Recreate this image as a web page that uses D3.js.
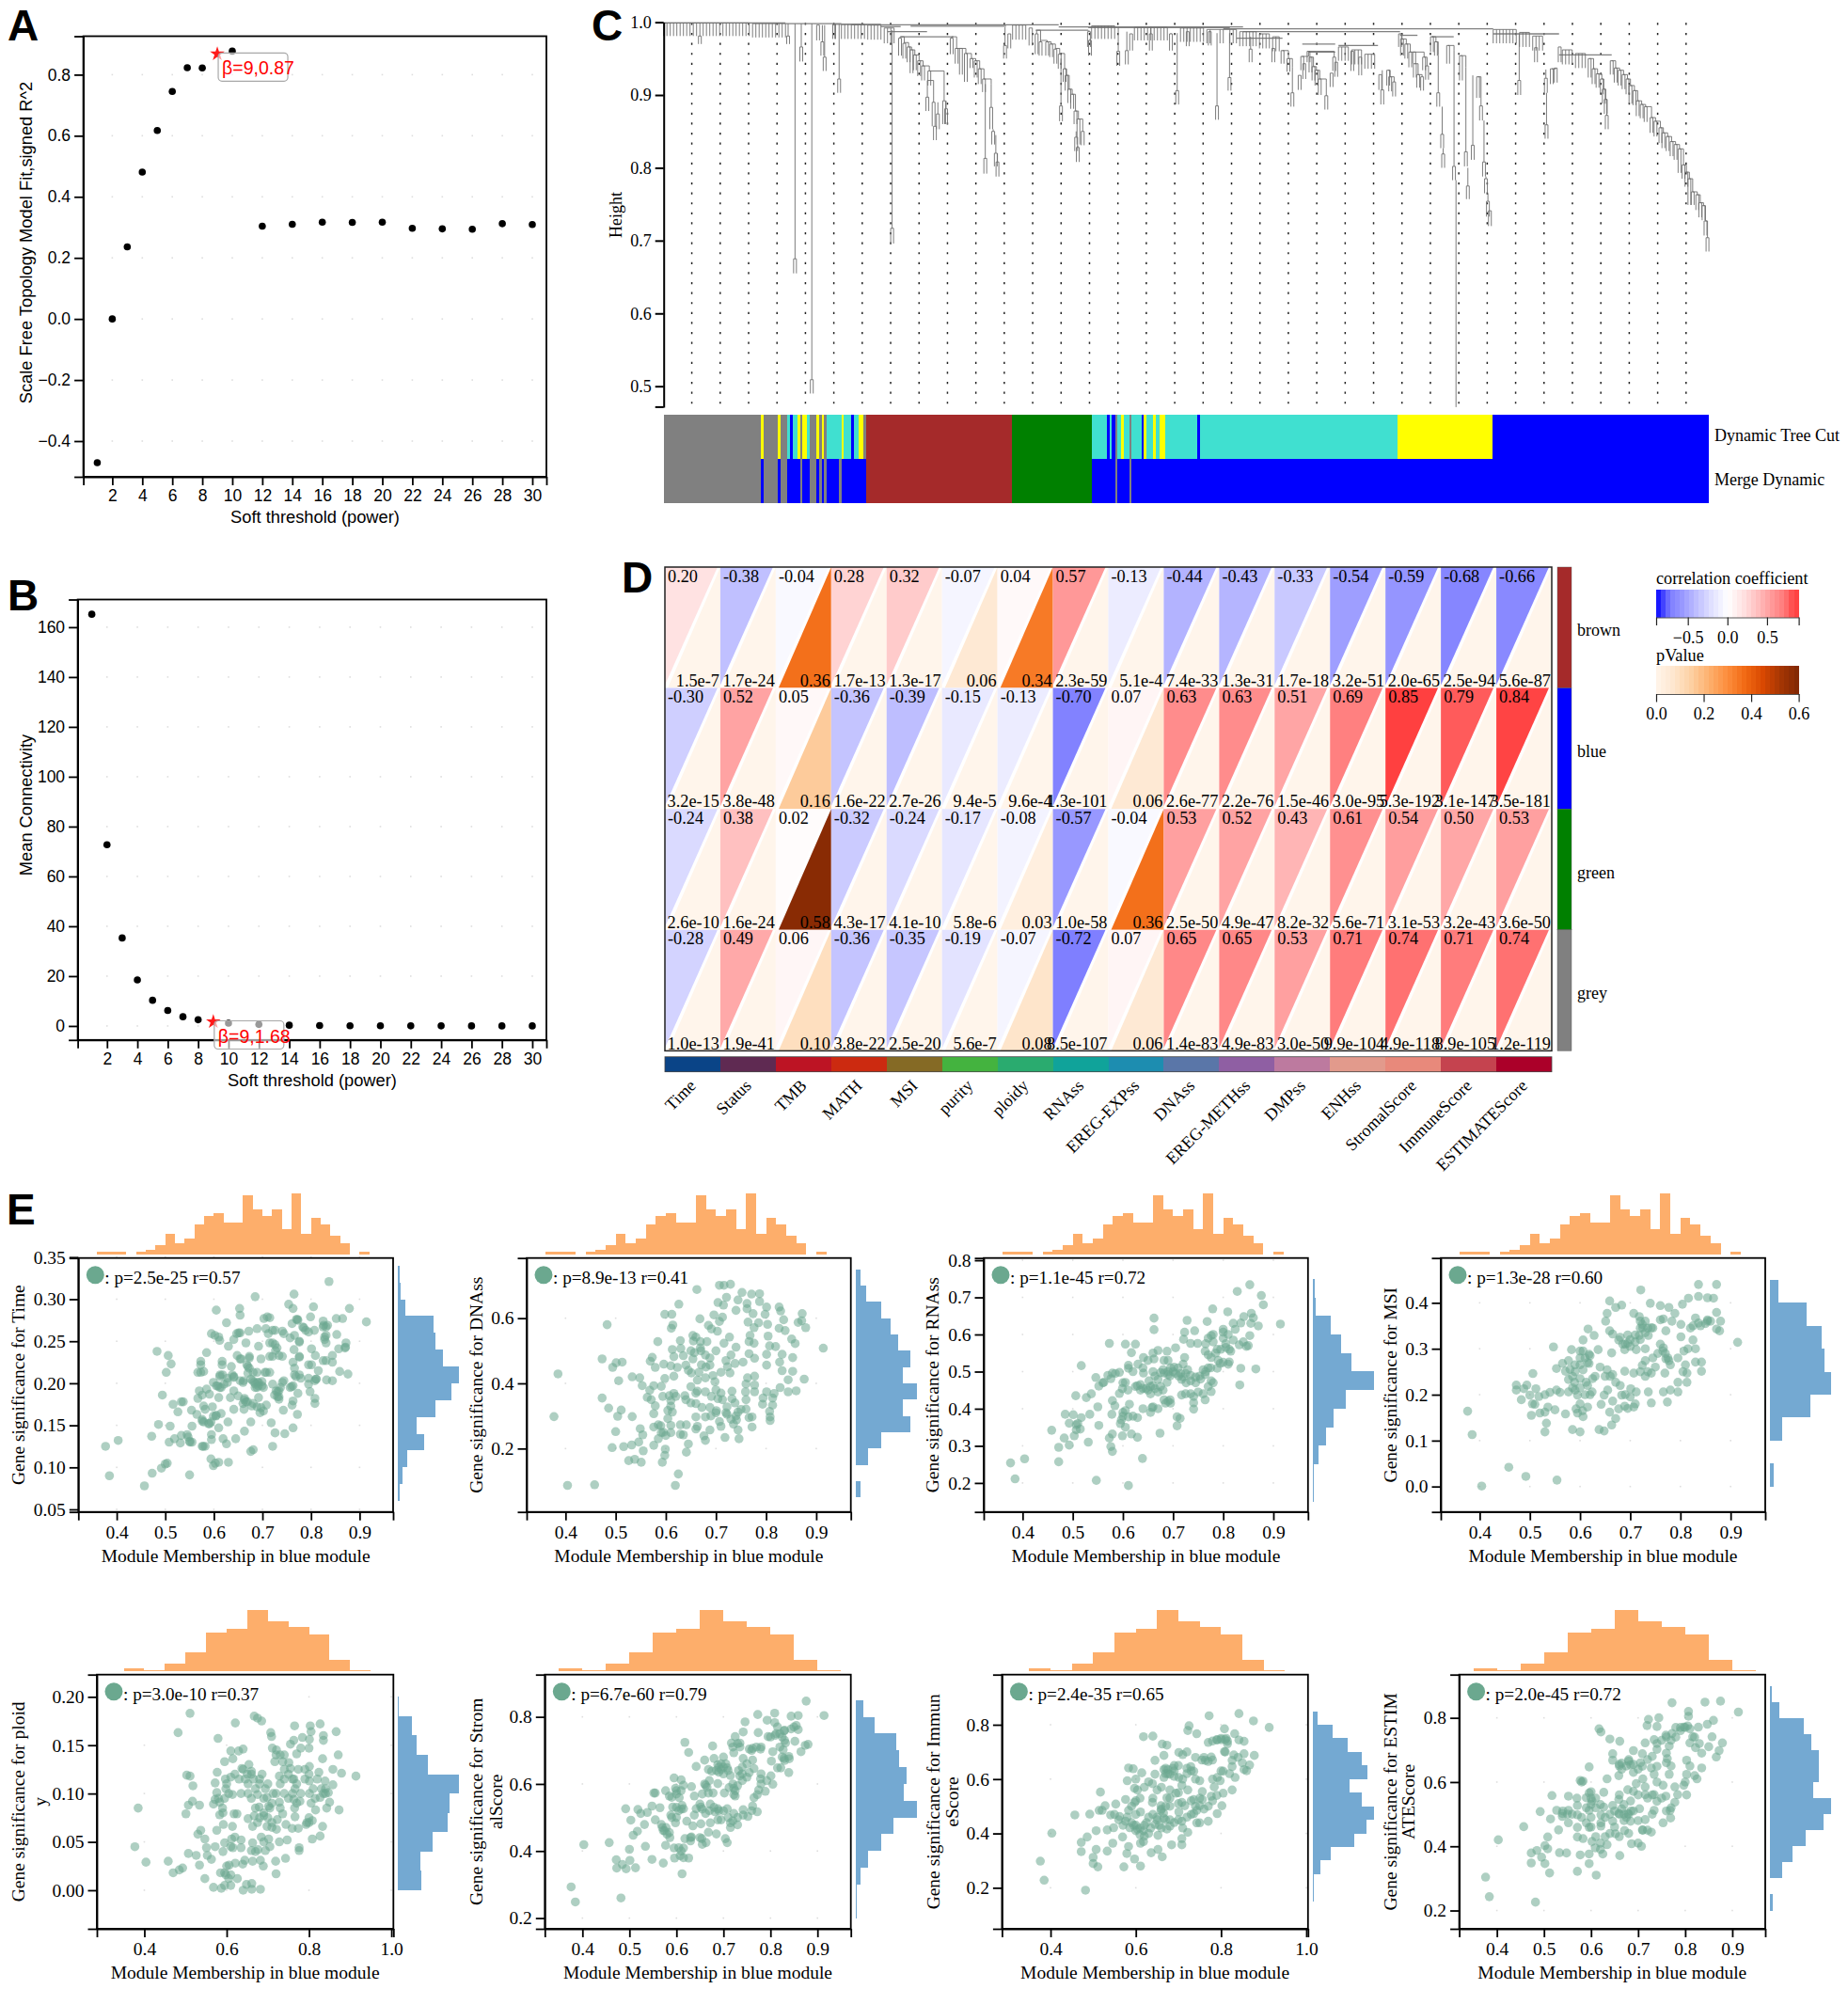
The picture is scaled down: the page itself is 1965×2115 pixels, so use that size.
<!DOCTYPE html>
<html>
<head>
<meta charset="utf-8">
<title>WGCNA figure</title>
<script src="https://cdn.jsdelivr.net/npm/d3@7"></script>
<style>
  html, body { margin: 0; background: #fff; }
  svg { display: block; }
  text { fill: #000; }
  .sans text, text.sans { font-family: "Liberation Sans", Arial, sans-serif; }
  .serif text, text.serif { font-family: "Liberation Serif", "Times New Roman", serif; }
  .letter { font-family: "Liberation Sans", Arial, sans-serif; font-weight: 700; font-size: 46px; }
</style>
</head>
<body>
<svg id="fig" width="1965" height="2115" viewBox="0 0 1965 2115"></svg>
<script>
// panels A and B: soft threshold scan
const powers = [1, 2, 3, 4, 5, 6, 7, 8, 9, 10, 12, 14, 16, 18, 20, 22, 24, 26, 28, 30];
const scaleFit = [-0.471, 0, 0.236, 0.481, 0.617, 0.745, 0.823, 0.822, 0.868, 0.877, 0.304, 0.31, 0.317, 0.316, 0.317, 0.297, 0.295, 0.294, 0.312, 0.309];
const meanConnectivity = [165.2, 72.7, 35.3, 18.5, 10.3, 6.2, 3.7, 2.5, 1.68, 1.1, 0.6, 0.3, 0.15, 0.1, 0.07, 0.05, 0.04, 0.03, 0.02, 0.02];
const powerTicks = [2, 4, 6, 8, 10, 12, 14, 16, 18, 20, 22, 24, 26, 28, 30];

// panel C: dendrogram. x is leaf rank, y is merge height
const treeCombs = [
  [.999, .981, [0, 1, 2, 3, 4, 5, 6, 7, 8, 9, 10, 12, 13, 14, 15, 16, 17, 18, 19, 20, 21, 22, 23, 24, 25, 26]],
  [.998, .979, [27, 28, 29, 30, 31, 32, 33, 34, 35, 36, 37]],
  [.997, .977, [52, 54, 55, 56, 57, 58, 59, 60, 61]],
  [.996, .976, [62, 63, 64, 65, 66]],
  [.992, .971, [67, 68, 69, 70]],
  [.996, .976, [106, 107, 108, 109, 110]],
  [.992, .968, [111, 112]],
  [.995, .977, [130, 131, 132, 133, 134, 135, 136, 137]],
  [.993, .975, [143, 144, 145, 146, 147, 148, 149, 150, 151, 152, 153]],
  [.992, .973, [157, 158, 159, 160, 161, 162, 163, 164]],
  [.990, .971, [165, 166, 169, 170, 172, 173, 174]],
  [.987, .967, [175, 176, 177, 178, 179, 180]],
  [.984, .964, [181, 182, 183, 184]],
  [.980, .960, [185, 186, 187]],
  [.966, .947, [205, 206, 207, 208]],
  [.962, .942, [209, 210, 211, 212]],
  [.956, .936, [213, 214, 215, 216]],
  [.990, .971, [252, 253, 254, 255, 256, 257, 258, 259]],
  [.986, .966, [260, 261, 262, 263]],
  [.981, .961, [264, 265, 266, 267]],
  [.962, .942, [273, 274, 275, 276]],
  [.957, .937, [277, 278, 279, 280]]
];
// [rank, stem top, fork top, fork bottom]; runs inside one group are joined as a staircase
const treeForks = [
  [[11, .999, .981, .970]], [[37.8, .998, .981, .970]], [[39.9, .998, .675, .655]],
  [[41.8, .998, .966, .946]], [[45, .998, .509, .490]], [[46.9, .996, .996, .975]],
  [[48.2, .996, .973, .954]], [[48.9, .996, .952, .933]], [[51.8, .997, .997, .977]],
  [[53.3, .997, .922, .903]], [[69.4, .989, .717, .696]],
  [[71.8, .98, .978, .954], [73.1, .972, .971, .95], [74.4, .966, .966, .945], [75.3, .962, .962, .93], [76.3, .955, .955, .934], [77.6, .947, .947, .926], [78.8, .94, .94, .92], [80.7, .933, .933, .913], [85.2, .905, .892, .86]],
  [[80.1, .92, .897, .878], [82, .90, .89, .857]], [[82.4, .857, .857, .838]],
  [[83.3, .89, .874, .853]], [[85.8, .892, .881, .86]],
  [[87.5, .98, .978, .956], [89, .964, .964, .943], [90.3, .964, .964, .928], [91.8, .957, .957, .918], [93.5, .95, .95, .937], [94.8, .947, .947, .924], [96, .936, .936, .915], [97.3, .922, .922, .904], [99.5, .915, .883, .853]],
  [[97.7, .915, .813, .792]], [[100.1, .853, .85, .832]], [[100.9, .845, .82, .802]], [[101.4, .82, .808, .788]],
  [[103.7, .993, .968, .95]], [[105, .984, .984, .964]],
  [[113.3, .989, .984, .956], [114.5, .975, .973, .954], [116.5, .973, .973, .954], [117.7, .97, .97, .952], [119, .964, .963, .943], [120.3, .957, .956, .936], [121.8, .936, .936, .918], [122.4, .927, .927, .906], [123.2, .908, .908, .889], [124.1, .901, .901, .881], [125.1, .878, .878, .86], [126, .867, .867, .832], [127.3, .85, .85, .831]],
  [[120.7, .95, .885, .864]], [[125.3, .85, .842, .823]], [[125.8, .83, .828, .808]],
  [[129.2, .989, .987, .966]], [[129.5, .977, .975, .954]], [[138.1, .994, .96, .94]],
  [[140.7, .987, .961, .942]], [[142, .984, .984, .961]], [[148, .994, .984, .961]],
  [[154.1, .985, .984, .961]], [[156, .985, .906, .887]], [[159.2, .987, .987, .967]],
  [[165.9, .987, .987, .968]], [[168.1, .985, .885, .866]], [[171.9, .985, .924, .906]],
  [[178.3, .98, .963, .945]], [[185.2, .964, .964, .945]],
  [[188, .961, .961, .943], [189.8, .95, .95, .932], [191, .938, .903, .884]],
  [[193.2, .927, .927, .907]], [[194, .953, .953, .934], [195.9, .96, .96, .945], [203.7, .952, .952, .933]],
  [[194.6, .943, .943, .922]], [[196.5, .952, .952, .931], [197.4, .939, .939, .92], [198.3, .934, .934, .913], [199.3, .922, .922, .9], [201.3, .917, .899, .88]],
  [[202.9, .93, .93, .911]], [[204.3, .945, .945, .925]], [[209.2, .96, .96, .933]], [[211.6, .952, .952, .927]],
  [[217.7, .928, .928, .907]], [[218.3, .934, .907, .887]], [[220.1, .934, .934, .913], [220.7, .925, .925, .905], [221.9, .918, .918, .898]],
  [[223.7, .984, .984, .966], [224.3, .977, .977, .954], [225.6, .97, .97, .95], [226.8, .959, .959, .938], [228, .959, .959, .943], [231, .952, .952, .934], [231.9, .94, .94, .921]],
  [[228.2, .943, .943, .924], [229.2, .928, .928, .91], [230.4, .925, .925, .906]],
  [[233.4, .98, .98, .959], [234.6, .973, .973, .954], [235.3, .955, .903, .884]],
  [[236.5, .884, .846, .827]], [[236.8, .827, .819, .8]], [[238.3, .968, .968, .943], [240.1, .961, .802, .783]],
  [[240.7, .783, .4713, .4713]],
  [[242.2, .954, .954, .92], [243.7, .938, .822, .802]], [[244.3, .80, .775, .757]],
  [[245.8, .927, .831, .811]], [[247.4, .925, .925, .896], [248.3, .896, .885, .865]],
  [[249.2, .865, .808, .788]], [[249.8, .788, .785, .765]], [[250.4, .765, .754, .733]], [[251, .741, .741, .72]],
  [[259.9, .984, .92, .9]], [[265, .965, .965, .945]], [[268, .935, .923, .903]], [[268.2, .903, .859, .84]],
  [[269.8, .936, .936, .915], [271, .937, .937, .917]], [[272.2, .966, .966, .945]],
  [[281.3, .95, .95, .924], [282.5, .936, .936, .915], [283.7, .929, .929, .91], [285, .922, .922, .901], [285.6, .908, .908, .888], [286.2, .894, .894, .874], [286.5, .872, .872, .853]],
  [[288, .947, .947, .928], [289.2, .937, .937, .917], [290.4, .934, .934, .913], [291.6, .928, .928, .908], [292.8, .922, .922, .901], [293.7, .913, .913, .888], [294.9, .906, .906, .886], [295.9, .892, .892, .871], [297.1, .887, .887, .868], [298.3, .884, .884, .863], [300.1, .869, .869, .848], [301.3, .864, .864, .843], [302.8, .855, .855, .834], [303.7, .848, .848, .827], [305, .843, .843, .823], [306.2, .836, .836, .816], [307.4, .832, .832, .811], [308.6, .826, .826, .793], [309.8, .804, .804, .785], [310.7, .794, .794, .774], [311.6, .785, .785, .749], [312.6, .767, .767, .749], [314, .763, .763, .742], [314.9, .752, .752, .732], [315.9, .748, .748, .728], [316.5, .727, .727, .707], [317.1, .704, .704, .685]]
];
const treeBars = [
  [0, 37, .999], [37, 54, .998], [54, 66, .997], [57, 120, .9965], [75, 104, .9945], [66, 72, .994],
  [68, 80, .987], [72, 88, .98], [113, 129, .989], [120, 176, .9935], [129, 172, .9925], [170, 252, .991],
  [176, 223.7, .987], [223.7, 229, .982], [233.4, 240, .98], [252, 272, .984], [272, 288, .955],
  [194, 204, .97], [196, 204, .959], [174, 188, .978], [205, 217, .968]
];
const cutRanks = [29.5, 30.4, 34.7, 35.5, 37.6, 38.3, 39.2, 40.7, 41.6, 42.2, 43.5, 44.4, 46.4, 47.2, 48, 48.7, 49.5, 54, 54.6, 56.9, 57.7, 59.1, 60.7, 61.4, 105.9, 130.1, 134.7, 135.5, 136.2, 137.1, 137.8, 139, 139.8, 141.6, 142.2, 145.2, 145.8, 146.6, 148.7, 149.5, 150.6, 152.4, 162.1, 162.9, 222.9, 251.9, 317.5];
const cutColors = ['grey', 'yellow', 'grey', 'yellow', 'grey', 'turquoise', 'blue', 'turquoise', 'yellow', 'grey', 'yellow', 'turquoise', 'grey', 'yellow', 'grey', 'yellow', 'grey', 'turquoise', 'yellow', 'turquoise', 'blue', 'turquoise', 'yellow', 'grey', 'brown', 'green', 'turquoise', 'blue', 'turquoise', 'blue', 'grey', 'turquoise', 'yellow', 'turquoise', 'grey', 'turquoise', 'blue', 'yellow', 'turquoise', 'yellow', 'turquoise', 'yellow', 'turquoise', 'blue', 'turquoise', 'yellow', 'blue'];
const mergeRanks = [29.5, 30.4, 34.7, 35.5, 37.6, 41.5, 42.1, 44.4, 46.4, 47.2, 48, 48.7, 49.5, 53.1, 54, 61.4, 105.9, 130.1, 137.1, 137.8, 141.6, 142.2, 317.5];
const mergeColors = ['grey', 'blue', 'grey', 'blue', 'grey', 'blue', 'grey', 'blue', 'grey', 'blue', 'grey', 'blue', 'grey', 'blue', 'grey', 'blue', 'brown', 'green', 'blue', 'grey', 'blue', 'grey', 'blue'];
const moduleColors = { grey: '#808080', yellow: '#ffff00', turquoise: '#40e0d0', blue: '#0000ff', brown: '#a52a2a', green: '#008000' };
const treeHeightTicks = [0.5, 0.6, 0.7, 0.8, 0.9, 1.0];

// panel D: module-trait heatmap
const traits = ['Time', 'Status', 'TMB', 'MATH', 'MSI', 'purity', 'ploidy', 'RNAss', 'EREG-EXPss', 'DNAss', 'EREG-METHss', 'DMPss', 'ENHss', 'StromalScore', 'ImmuneScore', 'ESTIMATEScore'];
const traitColors = ['#0a4487', '#5f2a52', '#bd1424', '#cc2a10', '#856a25', '#44b33f', '#2aab6f', '#10a39a', '#1d8db0', '#5a76a8', '#8f5fa3', '#bd7a9f', '#e29a8c', '#e8897b', '#c5434f', '#ab0029'];
const modules = ['brown', 'blue', 'green', 'grey'];
const corrValues = [
  ['0.20', '-0.38', '-0.04', '0.28', '0.32', '-0.07', '0.04', '0.57', '-0.13', '-0.44', '-0.43', '-0.33', '-0.54', '-0.59', '-0.68', '-0.66'],
  ['-0.30', '0.52', '0.05', '-0.36', '-0.39', '-0.15', '-0.13', '-0.70', '0.07', '0.63', '0.63', '0.51', '0.69', '0.85', '0.79', '0.84'],
  ['-0.24', '0.38', '0.02', '-0.32', '-0.24', '-0.17', '-0.08', '-0.57', '-0.04', '0.53', '0.52', '0.43', '0.61', '0.54', '0.50', '0.53'],
  ['-0.28', '0.49', '0.06', '-0.36', '-0.35', '-0.19', '-0.07', '-0.72', '0.07', '0.65', '0.65', '0.53', '0.71', '0.74', '0.71', '0.74']
];
const pValues = [
  ['1.5e-7', '1.7e-24', '0.36', '1.7e-13', '1.3e-17', '0.06', '0.34', '2.3e-59', '5.1e-4', '7.4e-33', '1.3e-31', '1.7e-18', '3.2e-51', '2.0e-65', '2.5e-94', '5.6e-87'],
  ['3.2e-15', '3.8e-48', '0.16', '1.6e-22', '2.7e-26', '9.4e-5', '9.6e-4', '1.3e-101', '0.06', '2.6e-77', '2.2e-76', '1.5e-46', '3.0e-95', '5.3e-192', '3.1e-147', '3.5e-181'],
  ['2.6e-10', '1.6e-24', '0.58', '4.3e-17', '4.1e-10', '5.8e-6', '0.03', '1.0e-58', '0.36', '2.5e-50', '4.9e-47', '8.2e-32', '5.6e-71', '3.1e-53', '3.2e-43', '3.6e-50'],
  ['1.0e-13', '1.9e-41', '0.10', '3.8e-22', '2.5e-20', '5.6e-7', '0.08', '8.5e-107', '0.06', '1.4e-83', '4.9e-83', '3.0e-50', '9.9e-104', '4.9e-118', '8.9e-105', '1.2e-119']
];
const corrStops = [-0.9, -0.85, -0.72, -0.57, -0.38, -0.2, 0, 0.2, 0.38, 0.57, 0.72, 0.85, 0.9];
const corrStopColors = ['#0000ff', '#2828ff', '#7f7fff', '#9898ff', '#c0c0ff', '#e2e2ff', '#ffffff', '#ffe2e2', '#ffc0c0', '#ff9898', '#ff7a7a', '#ff4040', '#ff4848'];
const pStops = [0, 0.075, 0.15, 0.225, 0.3, 0.375, 0.45, 0.525, 0.6];
const pStopColors = ['#fff5eb', '#fee6ce', '#fdd0a2', '#fdae6b', '#fd8d3c', '#f16913', '#d94801', '#a63603', '#7f2704'];

// panel E: x marginal histograms, one binning per row of scatter plots
const mmBins28 = [1, 1, 1, 0, 1, 2, 4, 9, 5, 7, 13, 17, 18, 14, 14, 26, 20, 17, 20, 11, 27, 9, 16, 13, 8, 5, 0, 1];
const mmBins12 = [3, 1, 11, 27, 55, 60, 88, 71, 63, 52, 16, 1];

const timeHist = [1, 3, 6, 17, 12, 24, 34, 39, 29, 24, 23, 5, 2, 1];
const dnaHist = [3, 0, 8, 17, 36, 31, 40, 31, 36, 28, 23, 17, 7, 3];
const rnaHist = [1, 1, 7, 17, 26, 41, 76, 48, 35, 22, 4, 2];
const msiHist = [4, 0, 13, 42, 64, 57, 54, 38, 9];
const ploidyHist = [21, 20, 32, 45, 47, 56, 27, 17, 13, 1];
const stromalHist = [1, 1, 4, 10, 20, 30, 48, 38, 40, 34, 32, 15, 6];
const immuneHist = [1, 1, 5, 12, 27, 35, 40, 32, 24, 36, 32, 23, 13, 3];
const estimateHist = [2, 0, 8, 15, 24, 36, 41, 29, 33, 33, 28, 23, 6, 1];

const timePoints = [[.377,.125],[.403,.132],[.385,.09],[.457,.078],[.473,.093],[.492,.099],[.5,.104],[.504,.105],[.55,.091],[.594,.11],[.599,.102],[.603,.105],[.61,.106],[.63,.106],[.676,.119],[.681,.121],[.721,.125],[.472,.137],[.486,.151],[.51,.149],[.508,.13],[.519,.134],[.531,.129],[.533,.138],[.545,.139],[.55,.131],[.555,.13],[.555,.149],[.576,.125],[.582,.125],[.595,.139],[.595,.133],[.61,.147],[.619,.134],[.626,.128],[.645,.134],[.663,.143],[.676,.154],[.718,.153],[.726,.141],[.746,.14],[.763,.147],[.772,.163],[.494,.186],[.516,.175],[.526,.166],[.533,.178],[.537,.178],[.554,.168],[.565,.163],[.576,.157],[.576,.155],[.589,.152],[.594,.154],[.599,.161],[.605,.162],[.615,.164],[.629,.154],[.579,.173],[.582,.169],[.597,.172],[.567,.182],[.57,.191],[.576,.186],[.585,.193],[.591,.187],[.61,.183],[.641,.169],[.662,.169],[.678,.173],[.689,.172],[.695,.165],[.702,.167],[.708,.174],[.692,.183],[.666,.178],[.663,.182],[.65,.185],[.634,.183],[.641,.191],[.725,.186],[.731,.184],[.734,.181],[.743,.168],[.761,.174],[.763,.179],[.599,.201],[.608,.197],[.615,.195],[.621,.199],[.612,.208],[.618,.21],[.628,.206],[.483,.238],[.506,.233],[.512,.223],[.502,.213],[.585,.2365],[.573,.226],[.573,.222],[.567,.213],[.579,.214],[.605,.287],[.653,.289],[.654,.281],[.626,.272],[.685,.303],[.765,.306],[.754,.294],[.763,.289],[.805,.291],[.837,.321],[.879,.289],[.914,.273],[.799,.279],[.852,.277],[.865,.277],[.703,.277],[.71,.279],[.715,.278],[.772,.276],[.761,.271],[.689,.265],[.707,.265],[.726,.263],[.741,.262],[.785,.266],[.789,.263],[.807,.263],[.826,.269],[.834,.269],[.825,.274],[.853,.258],[.831,.257],[.828,.252],[.872,.248],[.871,.243],[.857,.241],[.844,.233],[.831,.227],[.844,.225],[.859,.214],[.876,.211],[.832,.204],[.844,.203],[.815,.215],[.81,.205],[.801,.222],[.809,.233],[.801,.241],[.595,.259],[.602,.257],[.61,.255],[.612,.251],[.63,.244],[.641,.252],[.651,.26],[.666,.248],[.672,.262],[.692,.244],[.715,.248],[.726,.246],[.727,.239],[.734,.233],[.765,.24],[.776,.249],[.776,.231],[.763,.225],[.648,.233],[.656,.229],[.673,.23],[.697,.229],[.715,.232],[.617,.226],[.636,.22],[.67,.22],[.613,.21],[.641,.207],[.661,.203],[.68,.203],[.69,.201],[.699,.202],[.708,.213],[.721,.199],[.741,.201],[.766,.218],[.769,.208],[.779,.206],[.76,.196],[.795,.199],[.798,.19],[.808,.182],[.808,.176],[.773,.188],[.737,.195],[.731,.19],[.685,.195],[.692,.197],[.702,.195]];
const timeDense = [[.647,.259],[.654,.26],[.712,.259],[.721,.263],[.744,.259],[.757,.254],[.766,.257],[.783,.267],[.795,.261],[.825,.267],[.831,.267],[.721,.248],[.73,.242],[.721,.232],[.741,.232],[.776,.232],[.673,.232],[.654,.229],[.668,.222],[.673,.218],[.617,.222],[.638,.21],[.641,.208],[.67,.212],[.681,.213],[.689,.213],[.705,.213],[.715,.213],[.766,.21],[.776,.21],[.795,.206],[.795,.222],[.676,.205],[.683,.201],[.689,.195],[.692,.201],[.699,.197],[.686,.199],[.605,.197],[.612,.195],[.628,.201],[.654,.203],[.66,.201],[.744,.203],[.728,.191],[.734,.191],[.734,.184],[.757,.195],[.763,.197],[.663,.18],[.669,.178],[.66,.176],[.681,.176],[.697,.171],[.579,.154],[.591,.152],[.604,.161],[.547,.136],[.578,.125],[.551,.13],[.808,.203],[.811,.205],[.828,.255],[.831,.248],[.87,.242],[.825,.227],[.776,.25],[.77,.276],[.773,.275],[.573,.213]];
const dnaPoints = [[.377,.298],[.385,.429],[.404,.087],[.458,.089],[.473,.475],[.473,.355],[.486,.324],[.483,.58],[.494,.449],[.501,.463],[.513,.465],[.506,.408],[.533,.42],[.548,.417],[.553,.393],[.568,.379],[.563,.357],[.571,.35],[.579,.331],[.576,.307],[.504,.299],[.511,.318],[.533,.298],[.5,.252],[.493,.203],[.516,.206],[.532,.211],[.546,.22],[.554,.242],[.549,.261],[.555,.193],[.526,.163],[.538,.167],[.551,.158],[.593,.158],[.598,.179],[.599,.198],[.625,.122],[.619,.087],[.641,.189],[.645,.214],[.679,.225],[.718,.234],[.746,.23],[.584,.528],[.598,.612],[.612,.612],[.614,.579],[.611,.569],[.626,.643],[.662,.688],[.707,.701],[.716,.701],[.729,.704],[.721,.664],[.704,.648],[.715,.64],[.744,.656],[.752,.679],[.771,.674],[.787,.675],[.787,.651],[.74,.624],[.762,.645],[.762,.629],[.801,.634],[.798,.612],[.774,.614],[.826,.634],[.829,.622],[.872,.614],[.864,.587],[.871,.592],[.879,.571],[.835,.595],[.826,.569],[.838,.562],[.914,.508],[.851,.536],[.858,.522],[.853,.479],[.853,.437],[.876,.413],[.844,.411],[.844,.374],[.86,.377],[.828,.387],[.832,.439],[.827,.465],[.832,.489],[.819,.513],[.807,.515],[.804,.545],[.803,.581],[.776,.571],[.764,.588],[.785,.586],[.668,.598],[.696,.61],[.713,.603],[.707,.59],[.685,.578],[.691,.567],[.703,.56],[.654,.547],[.66,.542],[.629,.531],[.669,.528],[.682,.528],[.716,.523],[.727,.542],[.74,.511],[.768,.547],[.776,.523],[.766,.528],[.766,.491],[.777,.477],[.801,.489],[.801,.456],[.754,.465],[.73,.487],[.613,.504],[.616,.482],[.63,.507],[.635,.485],[.657,.494],[.669,.509],[.679,.487],[.688,.478],[.573,.48],[.569,.468],[.579,.449],[.596,.459],[.61,.454],[.623,.449],[.64,.456],[.654,.475],[.671,.457],[.688,.456],[.723,.451],[.738,.461],[.651,.432],[.666,.434],[.694,.424],[.71,.434],[.728,.432],[.598,.415],[.616,.422],[.663,.41],[.679,.417],[.698,.405],[.763,.417],[.777,.422],[.76,.398],[.777,.395],[.576,.393],[.591,.391],[.663,.376],[.679,.374],[.732,.376],[.759,.374],[.777,.374],[.801,.374],[.816,.369],[.594,.36],[.607,.362],[.616,.369],[.638,.362],[.691,.36],[.704,.353],[.713,.35],[.732,.353],[.76,.35],[.794,.355],[.813,.355],[.61,.347],[.66,.338],[.738,.34],[.722,.328],[.813,.333],[.793,.336],[.604,.317],[.613,.312],[.672,.326],[.688,.326],[.701,.316],[.744,.312],[.76,.321],[.807,.314],[.604,.292],[.66,.297],[.679,.297],[.722,.305],[.741,.288],[.766,.295],[.772,.297],[.808,.297],[.808,.286],[.576,.266],[.585,.273],[.61,.271],[.629,.273],[.641,.273],[.663,.268],[.688,.257],[.707,.283],[.71,.268],[.735,.275],[.772,.266],[.744,.257],[.591,.249],[.61,.249],[.629,.244],[.635,.242],[.676,.239],[.576,.21],[.585,.23]];
const dnaDense = [[.68,.45],[.7,.38],[.71,.37],[.65,.39],[.66,.37],[.64,.35],[.65,.34],[.69,.3],[.7,.31],[.66,.26],[.62,.36],[.61,.33],[.59,.27],[.595,.25],[.6,.24],[.72,.31],[.73,.29],[.74,.3],[.75,.32],[.72,.47],[.67,.5],[.65,.5],[.655,.53],[.645,.44],[.7,.5]];
const rnaPoints = [[.376,.254],[.404,.265],[.385,.211],[.547,.207],[.611,.193],[.472,.257],[.639,.266],[.458,.342],[.472,.296],[.493,.302],[.483,.321],[.531,.31],[.485,.385],[.501,.384],[.493,.361],[.507,.357],[.517,.376],[.507,.343],[.503,.327],[.534,.385],[.552,.355],[.55,.405],[.506,.435],[.527,.43],[.537,.44],[.517,.516],[.546,.484],[.552,.461],[.562,.471],[.576,.481],[.579,.496],[.593,.498],[.573,.576],[.605,.574],[.625,.574],[.617,.551],[.611,.517],[.579,.422],[.584,.408],[.578,.385],[.613,.412],[.605,.395],[.597,.37],[.611,.378],[.629,.376],[.573,.321],[.579,.332],[.576,.298],[.579,.285],[.599,.327],[.617,.332],[.629,.323],[.674,.334],[.708,.354],[.714,.374],[.708,.378],[.741,.399],[.662,.644],[.662,.613],[.728,.638],[.768,.635],[.779,.669],[.809,.661],[.828,.716],[.853,.734],[.876,.705],[.88,.68],[.914,.628],[.865,.507],[.833,.464],[.87,.623],[.856,.657],[.841,.648],[.835,.631],[.824,.614],[.8,.614],[.853,.597],[.8,.606],[.776,.597],[.743,.61],[.723,.606],[.721,.587],[.735,.576],[.749,.576],[.705,.564],[.67,.557],[.688,.555],[.641,.538],[.662,.534],[.682,.53],[.723,.538],[.764,.555],[.788,.56],[.812,.56],[.832,.572],[.846,.568],[.776,.538],[.794,.522],[.812,.526],[.835,.509],[.788,.509],[.764,.492],[.753,.488],[.729,.505],[.7,.5],[.711,.488],[.682,.496],[.664,.488],[.641,.496],[.611,.509],[.605,.471],[.629,.462],[.646,.454],[.664,.454],[.688,.471],[.735,.475],[.776,.475],[.776,.446],[.741,.433],[.717,.437],[.694,.424],[.682,.424],[.658,.403],[.764,.424],[.741,.416],[.593,.441],[.599,.454],[.652,.475],[.67,.479],[.694,.488],[.717,.479],[.68,.505],[.69,.492],[.702,.512],[.715,.495],[.726,.47],[.66,.462],[.635,.45],[.655,.44],[.67,.445],[.72,.52],[.745,.47],[.76,.505],[.775,.51],[.79,.53],[.805,.575],[.82,.585]];
const rnaDense = [[.66,.5],[.675,.497],[.69,.5],[.695,.51],[.705,.495],[.71,.51],[.72,.485],[.725,.495],[.735,.49],[.745,.485],[.755,.48],[.765,.5],[.77,.51],[.625,.46],[.635,.465],[.64,.455],[.65,.45],[.655,.46],[.675,.46],[.68,.45],[.69,.42],[.685,.415],[.695,.415],[.66,.405],[.67,.4],[.725,.44],[.735,.44],[.75,.445],[.76,.44],[.77,.46],[.78,.47],[.78,.58],[.77,.545],[.785,.55],[.8,.525],[.81,.52],[.815,.555],[.805,.565],[.795,.56],[.8,.59],[.81,.6],[.82,.63],[.84,.58],[.85,.57],[.855,.63],[.86,.645],[.77,.59],[.765,.575],[.78,.6],[.69,.53],[.65,.53],[.66,.55],[.64,.51],[.63,.52],[.62,.5],[.56,.47],[.57,.49],[.585,.495],[.6,.47],[.61,.45],[.6,.38],[.595,.36],[.605,.35],[.51,.36],[.515,.345],[.6,.39],[.62,.38],[.64,.4],[.655,.39]];
const msiPoints = [[.376,.164],[.385,.113],[.404,.001],[.458,.042],[.492,.022],[.554,.014],[.547,.304],[.721,.428],[.836,.44],[.872,.44],[.914,.314],[.659,.404],[.654,.377],[.651,.36],[.671,.39],[.683,.395],[.74,.399],[.76,.394],[.777,.39],[.804,.397],[.816,.41],[.836,.414],[.854,.411],[.866,.41],[.872,.379],[.88,.36],[.878,.339],[.854,.363],[.836,.356],[.825,.35],[.801,.353],[.783,.36],[.76,.363],[.742,.346],[.718,.37],[.707,.377],[.724,.353],[.736,.329],[.718,.329],[.771,.339],[.801,.326],[.825,.319],[.807,.295],[.842,.271],[.83,.271],[.842,.251],[.813,.247],[.813,.227],[.795,.227],[.795,.206],[.774,.184],[.742,.182],[.766,.206],[.736,.206],[.712,.206],[.707,.173],[.677,.169],[.671,.148],[.663,.134],[.648,.121],[.638,.124],[.6,.119],[.585,.124],[.595,.16],[.592,.169],[.606,.152],[.615,.173],[.571,.158],[.55,.167],[.53,.162],[.533,.138],[.53,.119],[.503,.155],[.51,.179],[.536,.173],[.483,.189],[.473,.221],[.473,.21],[.488,.213],[.494,.221],[.5,.199],[.512,.213],[.518,.196],[.506,.246],[.553,.21],[.565,.268],[.553,.257],[.577,.274],[.583,.298],[.616,.343],[.606,.319],[.628,.329],[.606,.295],[.618,.288],[.636,.298],[.571,.251],[.577,.233],[.589,.227],[.577,.206],[.595,.199],[.624,.206],[.612,.227],[.63,.24],[.606,.254],[.618,.268],[.654,.254],[.665,.244],[.689,.251],[.707,.247],[.671,.227],[.701,.213],[.683,.199],[.665,.186],[.648,.199],[.642,.179],[.689,.175],[.659,.162],[.663,.291],[.695,.312],[.677,.319],[.689,.298],[.712,.298],[.73,.274],[.724,.264],[.766,.302],[.771,.278],[.777,.274],[.769,.247],[.742,.247],[.659,.339],[.665,.332],[.789,.377],[.766,.365],[.83,.367],[.872,.343],[.854,.36],[.72,.345],[.73,.36],[.69,.31],[.7,.32],[.62,.285],[.6,.28],[.59,.25],[.585,.215],[.6,.235]];
const msiDense = [[.72,.36],[.725,.345],[.73,.335],[.735,.345],[.745,.345],[.71,.33],[.72,.32],[.695,.33],[.685,.31],[.68,.325],[.7,.305],[.71,.315],[.73,.3],[.76,.31],[.765,.295],[.77,.29],[.775,.28],[.78,.265],[.755,.29],[.745,.28],[.75,.26],[.6,.295],[.61,.28],[.615,.27],[.6,.265],[.59,.265],[.58,.255],[.585,.24],[.59,.21],[.6,.215],[.61,.2],[.615,.22],[.625,.235],[.64,.26],[.65,.24],[.655,.21],[.66,.24],[.68,.22],[.69,.2],[.7,.195],[.71,.18],[.695,.17],[.72,.25],[.73,.24],[.735,.25],[.78,.21],[.795,.28],[.815,.3],[.82,.345],[.84,.35],[.85,.355],[.86,.36],[.83,.3],[.81,.265],[.805,.25],[.6,.18],[.605,.165],[.62,.2],[.54,.205],[.56,.205],[.52,.16],[.53,.2],[.505,.18]];
const ploidyPoints = [[.377,.045],[.385,.085],[.404,.029],[.458,.03],[.482,.163],[.511,.183],[.47,.018],[.485,.021],[.493,.023],[.503,.119],[.511,.118],[.518,.108],[.517,.092],[.507,.088],[.534,.088],[.501,.079],[.507,.038],[.526,.036],[.534,.026],[.53,.058],[.537,.062],[.547,.053],[.551,.044],[.553,.036],[.563,.032],[.547,.012],[.568,.003],[.587,.002],[.595,.005],[.61,.005],[.585,.018],[.598,.016],[.61,.016],[.626,.012],[.64,0],[.648,.006],[.661,.007],[.661,.001],[.682,.001],[.72,.017],[.606,.026],[.621,.028],[.639,.027],[.644,.031],[.663,.03],[.682,.031],[.689,.025],[.719,.03],[.743,.033],[.572,.045],[.591,.04],[.595,.049],[.615,.044],[.635,.044],[.612,.053],[.635,.052],[.663,.049],[.66,.041],[.676,.042],[.694,.041],[.684,.055],[.702,.053],[.728,.05],[.747,.052],[.776,.044],[.776,.041],[.808,.053],[.827,.056],[.833,.066],[.793,.068],[.808,.072],[.759,.064],[.774,.064],[.576,.062],[.614,.066],[.592,.068],[.652,.074],[.663,.066],[.675,.07],[.698,.066],[.721,.063],[.744,.068],[.766,.076],[.723,.073],[.69,.077],[.667,.077],[.583,.078],[.625,.079],[.618,.079],[.568,.089],[.583,.091],[.591,.08],[.572,.094],[.576,.101],[.614,.099],[.598,.105],[.61,.117],[.577,.122],[.572,.111],[.597,.115],[.595,.133],[.61,.144],[.64,.146],[.629,.144],[.615,.136],[.579,.157],[.621,.173],[.667,.18],[.675,.178],[.685,.175],[.707,.163],[.709,.159],[.765,.17],[.803,.17],[.827,.172],[.866,.164],[.805,.164],[.835,.16],[.835,.155],[.801,.156],[.784,.158],[.763,.155],[.755,.151],[.8,.147],[.78,.147],[.77,.141],[.711,.147],[.721,.145],[.74,.14],[.717,.133],[.751,.132],[.833,.136],[.871,.14],[.858,.125],[.879,.121],[.914,.118],[.801,.128],[.774,.125],[.755,.126],[.736,.133],[.654,.13],[.637,.126],[.66,.123],[.686,.12],[.728,.118],[.763,.115],[.801,.113],[.824,.122],[.839,.113],[.858,.109],[.847,.101],[.827,.096],[.801,.1],[.766,.105],[.74,.1],[.713,.1],[.694,.105],[.675,.099],[.652,.1],[.652,.11],[.698,.096],[.728,.091],[.763,.094],[.778,.092],[.85,.091],[.843,.085],[.816,.083],[.873,.083],[.679,.086],[.702,.087],[.736,.079]];
const ploidyDense = [[.66,.12],[.665,.115],[.67,.105],[.68,.11],[.69,.095],[.7,.11],[.705,.085],[.71,.09],[.72,.1],[.73,.11],[.74,.115],[.75,.12],[.76,.115],[.77,.11],[.78,.1],[.79,.115],[.8,.12],[.81,.105],[.82,.115],[.83,.105],[.84,.105],[.765,.085],[.76,.1],[.77,.09],[.75,.095],[.66,.095],[.67,.085],[.68,.075],[.69,.08],[.7,.075],[.71,.07],[.73,.085],[.63,.115],[.635,.1],[.62,.12],[.64,.125],[.65,.12],[.645,.115],[.6,.11],[.605,.1],[.595,.095],[.59,.085],[.58,.095],[.62,.055],[.61,.045],[.6,.025],[.605,.012],[.595,.018],[.71,.065],[.705,.045],[.69,.05],[.67,.04],[.68,.115],[.72,.14],[.73,.14],[.74,.125],[.79,.125],[.805,.09],[.815,.095],[.835,.1],[.84,.1],[.8,.075],[.795,.07],[.8,.07]];
const stromalPoints = [[.376,.293],[.385,.248],[.403,.419],[.457,.425],[.482,.26],[.492,.526],[.503,.492],[.518,.524],[.524,.512],[.538,.515],[.548,.534],[.555,.493],[.565,.529],[.532,.479],[.517,.459],[.508,.447],[.5,.405],[.534,.414],[.472,.374],[.485,.36],[.473,.349],[.493,.347],[.501,.372],[.513,.35],[.548,.375],[.572,.364],[.612,.332],[.596,.379],[.608,.386],[.626,.379],[.615,.409],[.595,.409],[.577,.417],[.586,.44],[.572,.461],[.578,.47],[.568,.479],[.555,.573],[.552,.573],[.577,.58],[.585,.564],[.595,.618],[.598,.587],[.61,.612],[.618,.724],[.626,.694],[.677,.713],[.642,.652],[.66,.671],[.68,.676],[.7,.68],[.688,.657],[.695,.643],[.675,.638],[.668,.643],[.708,.648],[.722,.693],[.725,.741],[.717,.722],[.735,.722],[.742,.755],[.746,.785],[.773,.807],[.809,.811],[.793,.79],[.809,.783],[.844,.802],[.859,.804],[.876,.847],[.914,.804],[.774,.753],[.795,.741],[.812,.75],[.829,.758],[.844,.764],[.855,.774],[.859,.762],[.852,.727],[.865,.696],[.874,.715],[.88,.718],[.832,.722],[.827,.702],[.839,.682],[.829,.676],[.805,.696],[.802,.668],[.815,.648],[.839,.634],[.822,.648],[.779,.704],[.762,.706],[.755,.704],[.742,.676],[.762,.671],[.765,.646],[.755,.634],[.732,.64],[.735,.624],[.779,.615],[.792,.61],[.805,.599],[.801,.624],[.789,.578],[.775,.582],[.772,.568],[.765,.559],[.762,.534],[.772,.517],[.752,.503],[.742,.507],[.742,.523],[.712,.589],[.722,.587],[.725,.564],[.722,.568],[.688,.601],[.702,.573],[.678,.573],[.662,.596],[.668,.573],[.638,.564],[.632,.592],[.615,.596],[.606,.559],[.612,.536],[.592,.531],[.615,.526],[.588,.507],[.598,.484],[.622,.489],[.635,.475],[.618,.437],[.632,.442],[.654,.437],[.663,.425],[.668,.456],[.685,.451],[.704,.437],[.708,.425],[.652,.481],[.672,.484],[.688,.493],[.715,.484],[.715,.47],[.73,.478],[.722,.512],[.708,.526],[.688,.526],[.672,.54],[.652,.531],[.642,.526],[.638,.507],[.662,.512],[.682,.517],[.695,.493]];
const stromalDense = [[.69,.65],[.695,.66],[.7,.65],[.705,.66],[.69,.635],[.7,.63],[.71,.64],[.685,.64],[.715,.625],[.74,.63],[.74,.65],[.75,.66],[.76,.7],[.77,.71],[.78,.71],[.8,.74],[.81,.745],[.82,.75],[.825,.74],[.83,.73],[.815,.77],[.83,.76],[.85,.77],[.73,.72],[.72,.71],[.735,.71],[.6,.53],[.605,.52],[.61,.525],[.6,.57],[.6,.58],[.59,.56],[.61,.58],[.65,.54],[.655,.525],[.67,.52],[.68,.53],[.69,.52],[.7,.52],[.655,.57],[.665,.59],[.66,.6],[.67,.61],[.72,.6],[.725,.58],[.73,.595],[.74,.61],[.75,.62],[.57,.47],[.575,.46],[.58,.45],[.585,.455],[.59,.5],[.6,.5],[.605,.41],[.61,.4],[.615,.38],[.65,.44],[.655,.42],[.71,.5],[.72,.49],[.73,.5],[.76,.52],[.78,.6],[.82,.71],[.825,.68],[.83,.67],[.84,.675],[.78,.63],[.63,.44],[.63,.43]];
const immunePoints = [[.376,.298],[.385,.228],[.403,.401],[.482,.191],[.457,.468],[.492,.471],[.517,.552],[.472,.367],[.472,.333],[.486,.387],[.5,.289],[.511,.277],[.507,.341],[.5,.312],[.507,.41],[.533,.335],[.546,.364],[.533,.413],[.548,.421],[.572,.277],[.611,.28],[.579,.326],[.597,.306],[.583,.352],[.611,.364],[.636,.329],[.652,.341],[.662,.314],[.684,.358],[.708,.358],[.708,.381],[.722,.404],[.743,.439],[.618,.756],[.64,.758],[.662,.729],[.673,.725],[.725,.796],[.722,.779],[.743,.767],[.772,.833],[.842,.841],[.876,.814],[.913,.79],[.808,.785],[.812,.75],[.791,.744],[.77,.735],[.832,.767],[.842,.744],[.854,.739],[.808,.701],[.83,.689],[.854,.693],[.878,.687],[.867,.652],[.86,.631],[.826,.646],[.805,.629],[.833,.606],[.798,.594],[.826,.56],[.805,.548],[.777,.537],[.802,.502],[.791,.473],[.77,.445],[.75,.439],[.743,.485],[.715,.502],[.736,.525],[.756,.554],[.784,.571],[.763,.669],[.777,.681],[.729,.646],[.736,.629],[.701,.698],[.666,.687],[.645,.669],[.645,.618],[.666,.635],[.687,.64],[.701,.606],[.708,.577],[.68,.56],[.694,.548],[.673,.531],[.639,.514],[.659,.485],[.666,.456],[.645,.433],[.68,.427],[.652,.393],[.708,.445],[.701,.479],[.736,.473],[.583,.641],[.594,.638],[.614,.623],[.58,.594],[.597,.566],[.604,.56],[.576,.525],[.597,.514],[.611,.479],[.583,.485],[.553,.508],[.528,.502],[.521,.485],[.541,.468],[.562,.462],[.576,.445],[.586,.421],[.604,.416],[.618,.41],[.569,.387],[.618,.37],[.514,.485],[.673,.416],[.659,.502],[.708,.514],[.75,.502],[.639,.583],[.756,.525],[.791,.606],[.75,.594],[.722,.56],[.854,.635],[.826,.669],[.666,.606],[.68,.618],[.67,.64],[.69,.65],[.675,.62],[.625,.44],[.635,.42],[.6,.43],[.61,.395],[.65,.46],[.665,.475],[.74,.68],[.755,.67],[.79,.745],[.8,.75],[.815,.73]];
const immuneDense = [[.67,.62],[.675,.635],[.69,.63],[.69,.61],[.7,.65],[.72,.64],[.73,.63],[.76,.68],[.77,.665],[.78,.67],[.71,.69],[.72,.7],[.78,.74],[.8,.745],[.81,.745],[.815,.74],[.59,.44],[.595,.43],[.6,.41],[.61,.42],[.62,.39],[.63,.4],[.62,.43],[.63,.46],[.64,.47],[.65,.45],[.655,.43],[.66,.42],[.67,.45],[.68,.45],[.69,.44],[.66,.49],[.67,.5],[.68,.5],[.7,.45],[.71,.42],[.72,.46],[.73,.47],[.74,.5],[.75,.53],[.76,.49],[.77,.5],[.78,.52],[.79,.54],[.68,.53],[.7,.55],[.71,.6],[.72,.62],[.74,.6],[.78,.6],[.8,.63],[.82,.62],[.81,.7],[.84,.68],[.85,.66],[.6,.52],[.61,.53],[.62,.57],[.63,.59],[.6,.6],[.55,.47],[.56,.45],[.57,.43],[.58,.46],[.65,.56],[.66,.57],[.7,.51],[.73,.52],[.6,.47],[.59,.5],[.64,.53]];
const estimatePoints = [[.376,.304],[.384,.243],[.403,.42],[.482,.226],[.457,.461],[.492,.508],[.473,.379],[.473,.348],[.485,.387],[.495,.366],[.502,.346],[.502,.402],[.508,.392],[.508,.429],[.512,.317],[.514,.485],[.517,.558],[.533,.38],[.548,.379],[.531,.451],[.552,.556],[.527,.512],[.539,.502],[.552,.512],[.571,.322],[.577,.373],[.596,.346],[.611,.31],[.596,.376],[.625,.376],[.609,.395],[.661,.371],[.602,.415],[.634,.405],[.686,.408],[.707,.4],[.571,.429],[.583,.424],[.571,.459],[.596,.459],[.621,.463],[.652,.439],[.671,.449],[.709,.451],[.728,.444],[.753,.473],[.769,.488],[.768,.512],[.734,.512],[.715,.483],[.684,.478],[.659,.502],[.665,.517],[.646,.527],[.684,.541],[.715,.561],[.734,.561],[.784,.561],[.803,.56],[.778,.585],[.753,.59],[.678,.576],[.696,.595],[.69,.571],[.627,.568],[.596,.566],[.59,.551],[.602,.541],[.571,.527],[.596,.512],[.621,.498],[.571,.498],[.583,.603],[.596,.647],[.577,.605],[.634,.61],[.659,.62],[.646,.668],[.665,.659],[.684,.654],[.709,.649],[.728,.644],[.69,.698],[.709,.688],[.646,.688],[.661,.727],[.64,.734],[.621,.756],[.617,.766],[.722,.795],[.744,.8],[.719,.776],[.74,.773],[.772,.847],[.807,.82],[.807,.805],[.842,.849],[.875,.852],[.913,.818],[.797,.771],[.81,.766],[.847,.78],[.86,.792],[.828,.771],[.816,.741],[.857,.741],[.879,.722],[.866,.678],[.872,.698],[.822,.707],[.81,.722],[.772,.751],[.759,.746],[.734,.732],[.715,.722],[.74,.702],[.766,.712],[.762,.673],[.74,.649],[.766,.624],[.803,.668],[.835,.644],[.825,.61],[.803,.624],[.797,.59],[.778,.537],[.759,.556],[.703,.517],[.678,.502],[.646,.478],[.621,.473],[.59,.473],[.552,.473],[.539,.493],[.715,.585],[.734,.624],[.659,.546],[.627,.522],[.66,.655],[.675,.65],[.68,.67],[.69,.63],[.675,.49],[.67,.5],[.685,.51],[.6,.53],[.61,.55],[.78,.77],[.79,.76]];
const estimateDense = [[.66,.65],[.665,.64],[.68,.665],[.69,.655],[.7,.64],[.705,.66],[.72,.67],[.73,.68],[.74,.72],[.75,.73],[.76,.74],[.77,.73],[.78,.74],[.79,.77],[.8,.77],[.805,.775],[.82,.74],[.83,.72],[.835,.69],[.85,.71],[.76,.69],[.76,.66],[.77,.65],[.8,.6],[.81,.65],[.82,.62],[.74,.6],[.71,.61],[.72,.55],[.73,.56],[.7,.56],[.66,.56],[.67,.53],[.66,.5],[.67,.48],[.65,.51],[.64,.5],[.63,.49],[.62,.53],[.61,.52],[.6,.55],[.6,.57],[.6,.46],[.61,.43],[.62,.41],[.63,.43],[.64,.44],[.65,.46],[.66,.43],[.68,.5],[.69,.51],[.7,.48],[.71,.45],[.72,.45],[.73,.5],[.74,.54],[.75,.55],[.76,.51],[.77,.52],[.58,.49],[.56,.5],[.55,.5],[.54,.51],[.57,.55],[.58,.6],[.59,.52],[.6,.49],[.68,.44],[.7,.41],[.62,.39]];

const svg = d3.select('#fig');
svg.append('rect').attr('width', 1965).attr('height', 2115).attr('fill', '#fff');

function letter(text, x, y) {
  svg.append('text').attr('class', 'letter').attr('x', x).attr('y', y).text(text);
}

// axes with unlabelled end ticks at both domain limits, plus a closed box
function drawFrame(g, x, y, xTicks, yTicks, xFmt, yFmt, fontSize, labelGap) {
  const [x0, x1] = x.range();
  const [y1, y0] = y.range();
  g.append('g').selectAll('rect').data(d3.cross(xTicks, yTicks)).join('rect')
    .attr('x', (d) => x(d[0]) - 0.8).attr('y', (d) => y(d[1]) - 0.8)
    .attr('width', 1.6).attr('height', 1.6).attr('fill', '#dedede');
  g.append('rect').attr('x', x0).attr('y', y0).attr('width', x1 - x0).attr('height', y1 - y0)
    .attr('fill', 'none').attr('stroke', '#000').attr('stroke-width', 1.8);
  const ax = g.append('g').attr('transform', `translate(0,${y1})`)
    .call(d3.axisBottom(x).tickValues([...x.domain(), ...xTicks])
      .tickFormat((v) => (xTicks.includes(v) ? xFmt(v) : '')).tickSize(9).tickSizeOuter(0).tickPadding(labelGap));
  const ay = g.append('g').attr('transform', `translate(${x0},0)`)
    .call(d3.axisLeft(y).tickValues([...y.domain(), ...yTicks])
      .tickFormat((v) => (yTicks.includes(v) ? yFmt(v) : '')).tickSize(9.5).tickSizeOuter(0).tickPadding(4));
  [ax, ay].forEach((a) => {
    a.attr('font-family', null).attr('font-size', null);
    a.selectAll('.domain').attr('stroke-width', 1.8);
    a.selectAll('line').attr('stroke-width', 1.8);
    a.selectAll('text').attr('font-size', fontSize);
  });
}

function drawPowerPanel(o) {
  const g = svg.append('g').attr('class', 'sans');
  const x = d3.scaleLinear().domain(o.xDomain).range(o.xRange);
  const y = d3.scaleLinear().domain(o.yDomain).range(o.yRange);
  drawFrame(g, x, y, powerTicks, o.yTicks, d3.format('d'), o.yFmt, 17.5, 5);

  g.append('g').selectAll('circle').data(powers.filter((p) => p !== 9)).join('circle')
    .attr('cx', (p) => x(p)).attr('cy', (p) => y(o.values[powers.indexOf(p)]))
    .attr('r', 3.8).attr('fill', '#000');

  const sx = x(9);
  const sy = y(o.values[powers.indexOf(9)]);
  g.append('path').attr('d', d3.symbol(d3.symbolStar, 75)()).attr('transform', `translate(${sx},${sy})`).attr('fill', '#ff1a1a');
  g.append('rect').attr('x', sx + 1).attr('y', sy - 1).attr('width', 74).attr('height', 30).attr('rx', 4)
    .attr('fill', '#fff').attr('fill-opacity', 0.6).attr('stroke', '#a8a8a8').attr('stroke-width', 1.2);
  g.append('text').attr('x', sx + 5).attr('y', sy + 22).attr('font-size', 19.5).style('fill', '#ff0000').text(o.note);

  g.append('text').attr('x', o.xLabel[0]).attr('y', o.xLabel[1]).attr('text-anchor', 'middle').attr('font-size', 18.3).text('Soft threshold (power)');
  g.append('text').attr('transform', `translate(${o.yLabel[0]},${o.yLabel[1]}) rotate(-90)`).attr('text-anchor', 'middle').attr('font-size', 18.3).text(o.yTitle);
}

function drawTree() {
  const g = svg.append('g').attr('class', 'serif');
  const x = d3.scaleLinear().domain([0, 317.5]).range([705.7, 1817]);
  const y = d3.scaleLinear().domain([0.5, 1]).range([410.7, 23.6]);
  const stroke = '#6e6e6e';

  g.append('g').selectAll('line').data(d3.range(36)).join('line')
    .attr('x1', (i) => x(8.54 + i * 8.63)).attr('x2', (i) => x(8.54 + i * 8.63))
    .attr('y1', y(0.999)).attr('y2', y(0.474))
    .attr('stroke', '#222').attr('stroke-width', 1.5).attr('stroke-dasharray', '2.2,8.4');

  const tree = g.append('g').attr('fill', 'none').attr('stroke', stroke).attr('stroke-width', 0.9);
  tree.selectAll('.bar').data(treeBars).join('line').attr('class', 'bar')
    .attr('x1', (d) => x(d[0])).attr('x2', (d) => x(d[1])).attr('y1', (d) => y(d[2])).attr('y2', (d) => y(d[2]))
    .attr('stroke', '#808080').attr('stroke-width', 1.3);
  treeCombs.forEach(([top, bottom, ranks]) => {
    tree.append('path').attr('d', ranks.map((r) => `M${x(r)},${y(top)}V${y(bottom)}`).join('') + `M${x(ranks[0])},${y(top)}H${x(ranks[ranks.length - 1])}`);
  });
  treeForks.forEach((group) => {
    group.forEach(([rank, stemTop, forkTop, forkBottom], i) => {
      const px = x(rank);
      let d = `M${px},${y(stemTop)}V${y(forkTop)}`;
      if (forkBottom !== forkTop) d += `M${px - 1.5},${y(forkBottom)}V${y(forkTop)}H${px + 1.5}V${y(forkBottom)}`;
      if (i > 0) {
        const prev = group[i - 1];
        d += `M${x(prev[0])},${y(prev[1])}H${px}V${y(stemTop)}`;
      }
      tree.append('path').attr('d', d);
    });
  });

  const ax = g.append('g').attr('transform', 'translate(705.7,0)')
    .call(d3.axisLeft(d3.scaleLinear().domain([0.4713, 1]).range([432.9, 23.6]))
      .tickValues(treeHeightTicks).tickFormat(d3.format('.1f')).tickSize(9).tickSizeOuter(0).tickPadding(4));
  ax.attr('font-family', null).attr('font-size', null);
  ax.selectAll('.domain').attr('stroke-width', 2);
  ax.selectAll('line').attr('stroke-width', 2);
  ax.selectAll('text').attr('font-size', 18);
  // closing tick at the foot of the axis
  g.append('line').attr('x1', 696.7).attr('x2', 705.7).attr('y1', 432.9).attr('y2', 432.9).attr('stroke', '#000').attr('stroke-width', 2);
  g.append('text').attr('transform', 'translate(661,228.6) rotate(-90)').attr('text-anchor', 'middle').attr('font-size', 18).text('Height');

  [[cutRanks, cutColors, 441, 46.5], [mergeRanks, mergeColors, 487.5, 47.5]].forEach(([ends, colors, top, h]) => {
    g.append('g').attr('shape-rendering', 'crispEdges').selectAll('rect').data(ends).join('rect')
      .attr('x', (e, i) => x(i ? ends[i - 1] : 0)).attr('width', (e, i) => x(e) - x(i ? ends[i - 1] : 0))
      .attr('y', top).attr('height', h).attr('fill', (e, i) => moduleColors[colors[i]]);
  });
  g.append('text').attr('x', 1823).attr('y', 469).attr('font-size', 18).text('Dynamic Tree Cut');
  g.append('text').attr('x', 1823).attr('y', 516).attr('font-size', 18).text('Merge Dynamic');
}

function drawHeatmap() {
  const g = svg.append('g').attr('class', 'serif');
  const x = d3.scaleBand().domain(traits).range([707, 1650]);
  const y = d3.scaleBand().domain(modules).range([603, 1117.4]);
  const corrColor = d3.scaleLinear().domain(corrStops).range(corrStopColors);
  const pColor = d3.scaleLinear().domain(pStops).range(pStopColors);
  const w = x.bandwidth();
  const h = y.bandwidth();

  modules.forEach((m, r) => {
    traits.forEach((t, c) => {
      const px = x(t);
      const py = y(m);
      g.append('path').attr('d', `M${px},${py}H${px + w - 3}L${px},${py + h - 3}Z`).attr('fill', corrColor(+corrValues[r][c]));
      g.append('path').attr('d', `M${px + w},${py}V${py + h}H${px + 3}Z`).attr('fill', pColor(+pValues[r][c]));
    });
  });
  modules.forEach((m, r) => {
    traits.forEach((t, c) => {
      const px = x(t);
      const py = y(m);
      g.append('text').attr('x', px + 3).attr('y', py + 15.5).attr('font-size', 18.3).text(corrValues[r][c]);
      g.append('text').attr('x', px + w - 1).attr('y', py + h - 1.8).attr('text-anchor', 'end').attr('font-size', 18.3).text(pValues[r][c]);
    });
  });
  g.append('rect').attr('x', 707).attr('y', 603).attr('width', 943).attr('height', 514.4)
    .attr('fill', 'none').attr('stroke', '#222').attr('stroke-width', 1.5);

  g.append('g').selectAll('rect').data(modules).join('rect')
    .attr('x', 1656).attr('width', 15).attr('y', (m) => y(m)).attr('height', h)
    .attr('fill', (m) => moduleColors[m]).attr('stroke', '#555').attr('stroke-width', 0.4);
  g.append('g').selectAll('text').data(modules).join('text')
    .attr('x', 1677).attr('y', (m) => y(m) + h / 2 + 9).attr('font-size', 18).text((m) => m);

  g.append('g').attr('shape-rendering', 'crispEdges').selectAll('rect').data(traits).join('rect')
    .attr('x', (t) => x(t)).attr('width', w).attr('y', 1123.7).attr('height', 16)
    .attr('fill', (t, i) => traitColors[i]);
  g.append('rect').attr('x', 707).attr('y', 1123.7).attr('width', 943).attr('height', 16)
    .attr('fill', 'none').attr('stroke', '#444').attr('stroke-width', 0.8);
  g.append('g').selectAll('text').data(traits).join('text')
    .attr('transform', (t) => `translate(${x(t) + w / 2 + 4.5},1155.5) rotate(-45)`)
    .attr('text-anchor', 'end').attr('font-size', 18).text((t) => t);

  // legends
  const corrX = d3.scaleLinear().domain([-0.9, 0.9]).range([1761, 1912.6]);
  g.append('text').attr('x', 1761).attr('y', 621).attr('font-size', 18.3).text('correlation coefficient');
  g.append('g').attr('shape-rendering', 'crispEdges').selectAll('rect').data(d3.range(-0.9, 0.87, 0.06)).join('rect')
    .attr('x', (v) => corrX(v)).attr('width', corrX(0.06) - corrX(0)).attr('y', 626.6).attr('height', 30)
    .attr('fill', (v) => corrColor(v + 0.03));
  legendAxis(g, corrX, [-0.9, -0.5, 0, 0.5, 0.9], [-0.5, 0, 0.5], 656.5);

  const pX = d3.scaleLinear().domain([0, 0.6]).range([1761, 1912.6]);
  g.append('text').attr('x', 1761).attr('y', 703).attr('font-size', 18.3).text('pValue');
  g.append('g').attr('shape-rendering', 'crispEdges').selectAll('rect').data(d3.range(0, 0.59, 0.02)).join('rect')
    .attr('x', (v) => pX(v)).attr('width', pX(0.02) - pX(0)).attr('y', 708).attr('height', 30)
    .attr('fill', (v) => pColor(v + 0.01));
  legendAxis(g, pX, [0, 0.2, 0.4, 0.6], [0, 0.2, 0.4, 0.6], 738);
}

function legendAxis(g, scale, ticks, labelled, y) {
  const a = g.append('g').attr('transform', `translate(0,${y})`)
    .call(d3.axisBottom(scale).tickValues(ticks).tickSize(8.5).tickSizeOuter(0).tickPadding(6)
      .tickFormat((v) => (labelled.includes(v) ? d3.format('.1f')(v) : '')));
  a.attr('font-family', null).attr('font-size', null);
  a.selectAll('.domain').attr('stroke', '#555').attr('stroke-width', 1);
  a.selectAll('line').attr('stroke', '#222').attr('stroke-width', 1.2);
  a.selectAll('text').attr('font-size', 18);
}

function drawJoint(o) {
  const g = svg.append('g').attr('class', 'serif');
  const x = d3.scaleLinear().domain(o.xDomain).range([o.box[0], o.box[2]]);
  const y = d3.scaleLinear().domain(o.yDomain).range([o.box[3], o.box[1]]);
  drawFrame(g, x, y, o.xTicks, o.yTicks, d3.format(o.xFormat || '.1f'), d3.format(o.yFormat || '.1f'), 19.5, 5);

  g.append('g').selectAll('circle').data(o.points).join('circle')
    .attr('cx', (d) => x(d[0])).attr('cy', (d) => y(d[1])).attr('r', 4.8)
    .attr('fill', '#6ba88f').attr('fill-opacity', 0.55);

  const topScale = d3.scaleLinear().domain([0, d3.max(o.topBins)]).range([0, 65]);
  g.append('g').attr('shape-rendering', 'crispEdges').selectAll('rect').data(o.topBins).join('rect')
    .attr('x', (c, i) => x(o.topStart + i * o.topStep)).attr('width', x(o.topStep) - x(0))
    .attr('y', (c) => o.box[1] - 4 - topScale(c)).attr('height', (c) => topScale(c))
    .attr('fill', '#fdae6b');
  const sideScale = d3.scaleLinear().domain([0, d3.max(o.sideBins)]).range([0, 65]);
  g.append('g').attr('shape-rendering', 'crispEdges').selectAll('rect').data(o.sideBins).join('rect')
    .attr('x', o.box[2] + 5).attr('width', (c) => sideScale(c))
    .attr('y', (c, i) => y(o.sideStart + (i + 1) * o.sideStep)).attr('height', y(0) - y(o.sideStep))
    .attr('fill', '#74a9d2');

  g.append('circle').attr('cx', o.box[0] + 18).attr('cy', o.box[1] + 18).attr('r', 9.5).attr('fill', '#6ba88f');
  g.append('text').attr('x', o.box[0] + 28).attr('y', o.box[1] + 27.5).attr('font-size', 19.2).text(o.note);
  g.append('text').attr('x', (o.box[0] + o.box[2]) / 2).attr('y', o.box[3] + 53).attr('text-anchor', 'middle').attr('font-size', 19.5).text('Module Membership in blue module');
  o.yTitle.forEach((line, i) => {
    g.append('text').attr('transform', `translate(${o.yLabelX[i]},${(o.box[1] + o.box[3]) / 2}) rotate(-90)`)
      .attr('text-anchor', 'middle').attr('font-size', 19.5).text(line);
  });
}

letter('A', 8, 43);
drawPowerPanel({
  xDomain: [0.07, 30.94], xRange: [88.6, 581], yDomain: [-0.517, 0.926], yRange: [507, 38.5],
  yTicks: [-0.4, -0.2, 0, 0.2, 0.4, 0.6, 0.8], yFmt: d3.format('.1f'), values: scaleFit, note: 'β=9,0.87',
  xLabel: [335, 556], yLabel: [34, 258], yTitle: 'Scale Free Topology Model Fit,signed R^2'
});
letter('B', 8, 649);
drawPowerPanel({
  xDomain: [0.07, 30.93], xRange: [82.6, 581], yDomain: [-5.6, 171.1], yRange: [1105.8, 637.5],
  yTicks: [0, 20, 40, 60, 80, 100, 120, 140, 160], yFmt: d3.format('d'), values: meanConnectivity, note: 'β=9,1.68',
  xLabel: [332, 1155], yLabel: [34, 856], yTitle: 'Mean Connectivity'
});

letter('C', 629, 43);
drawTree();
letter('D', 661, 630);
drawHeatmap();
letter('E', 7, 1302);

const rowOneX = [0.4, 0.5, 0.6, 0.7, 0.8, 0.9];
const wideX = [0.4, 0.6, 0.8, 1.0];
const rowOne = { topBins: mmBins28, topStart: 0.36, topStep: 0.02 };
const rowTwo = { topBins: mmBins12, topStart: 0.35, topStep: 0.05 };

drawJoint({ ...rowOne, box: [83.3, 1337.7, 418, 1607.7], xDomain: [0.321, 0.969], yDomain: [0.047, 0.349], xTicks: rowOneX, yTicks: [0.05, 0.10, 0.15, 0.20, 0.25, 0.30, 0.35], yFormat: '.2f', points: [...timePoints, ...timeDense], sideBins: timeHist, sideStart: 0.06, sideStep: 0.02, note: ': p=2.5e-25 r=0.57', yTitle: ['Gene significance for Time'], yLabelX: [26] });
drawJoint({ ...rowOne, box: [560, 1337.7, 904.7, 1607.7], xDomain: [0.3225, 0.969], yDomain: [0.0056, 0.7846], xTicks: rowOneX, yTicks: [0.2, 0.4, 0.6], points: [...dnaPoints, ...dnaDense], sideBins: dnaHist, sideStart: 0.05, sideStep: 0.05, note: ': p=8.9e-13 r=0.41', yTitle: ['Gene significance for DNAss'], yLabelX: [512.5] });
drawJoint({ ...rowOne, box: [1046, 1337.7, 1390.8, 1607.7], xDomain: [0.3225, 0.969], yDomain: [0.122, 0.806], xTicks: rowOneX, yTicks: [0.2, 0.3, 0.4, 0.5, 0.6, 0.7, 0.8], points: [...rnaPoints, ...rnaDense], sideBins: rnaHist, sideStart: 0.15, sideStep: 0.05, note: ': p=1.1e-45 r=0.72', yTitle: ['Gene significance for RNAss'], yLabelX: [998] });
drawJoint({ ...rowOne, box: [1532, 1337.7, 1877, 1607.7], xDomain: [0.3225, 0.969], yDomain: [-0.0553, 0.4976], xTicks: rowOneX, yTicks: [0, 0.1, 0.2, 0.3, 0.4], points: [...msiPoints, ...msiDense], sideBins: msiHist, sideStart: 0, sideStep: 0.05, note: ': p=1.3e-28 r=0.60', yTitle: ['Gene significance for MSI'], yLabelX: [1485] });
drawJoint({ ...rowTwo, box: [103, 1780.7, 418.3, 2051], xDomain: [0.2847, 1.005], yDomain: [-0.0399, 0.223], xTicks: wideX, yTicks: [0, 0.05, 0.10, 0.15, 0.20], yFormat: '.2f', points: [...ploidyPoints, ...ploidyDense], sideBins: ploidyHist, sideStart: 0, sideStep: 0.02, note: ': p=3.0e-10 r=0.37', yTitle: ['Gene significance for ploid', 'y'], yLabelX: [26, 49] });
drawJoint({ ...rowTwo, box: [579.3, 1780.7, 904.7, 2051], xDomain: [0.32, 0.971], yDomain: [0.168, 0.926], xTicks: rowOneX, yTicks: [0.2, 0.4, 0.6, 0.8], points: [...stromalPoints, ...stromalDense], sideBins: stromalHist, sideStart: 0.2, sideStep: 0.05, note: ': p=6.7e-60 r=0.79', yTitle: ['Gene significance for Strom', 'alScore'], yLabelX: [513, 534] });
drawJoint({ ...rowTwo, box: [1065.4, 1780.7, 1390.8, 2051], xDomain: [0.286, 1.004], yDomain: [0.049, 0.9845], xTicks: wideX, yTicks: [0.2, 0.4, 0.6, 0.8], points: [...immunePoints, ...immuneDense], sideBins: immuneHist, sideStart: 0.15, sideStep: 0.05, note: ': p=2.4e-35 r=0.65', yTitle: ['Gene significance for Immun', 'eScore'], yLabelX: [999, 1019] });
drawJoint({ ...rowTwo, box: [1551.6, 1780.7, 1877, 2051], xDomain: [0.32, 0.97], yDomain: [0.143, 0.9346], xTicks: rowOneX, yTicks: [0.2, 0.4, 0.6, 0.8], points: [...estimatePoints, ...estimateDense], sideBins: estimateHist, sideStart: 0.2, sideStep: 0.05, note: ': p=2.0e-45 r=0.72', yTitle: ['Gene significance for ESTIM', 'ATEScore'], yLabelX: [1485, 1504] });
</script>
</body>
</html>
